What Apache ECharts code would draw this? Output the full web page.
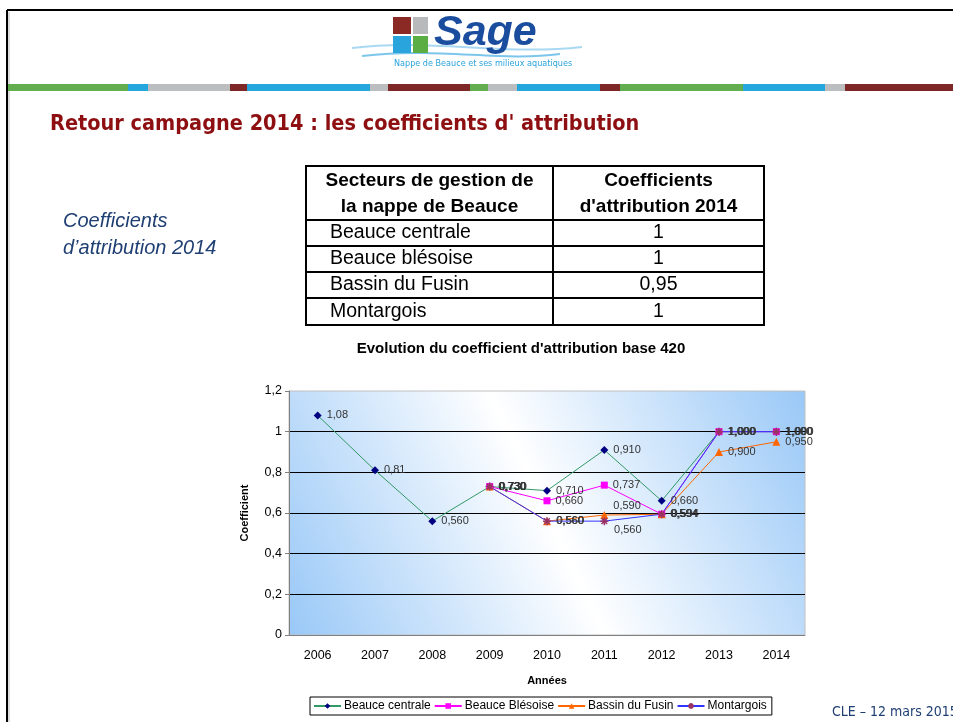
<!DOCTYPE html>
<html>
<head>
<meta charset="utf-8">
<script src="https://cdn.jsdelivr.net/npm/echarts@6/dist/echarts.min.js"></script>
<style>
  html, body { margin: 0; padding: 0; background: #fff; }
  #slide { width: 953px; height: 722px; }
</style>
</head>
<body>
<div id="slide"></div>
<script>
// données du graphique
var years = ['2006', '2007', '2008', '2009', '2010', '2011', '2012', '2013', '2014'];
var centrale = [1.08, 0.81, 0.56, 0.73, 0.71, 0.91, 0.66, 1.0, 1.0];
var blesoise = [null, null, null, 0.73, 0.66, 0.737, 0.594, 1.0, 1.0];
var fusin = [null, null, null, 0.73, 0.56, 0.59, 0.594, 0.9, 0.95];
var montargois = [null, null, null, 0.73, 0.56, 0.56, 0.594, 1.0, 1.0];
var seriesNames = ['Beauce centrale', 'Beauce Blésoise', 'Bassin du Fusin', 'Montargois'];
var yTicks = [0, 0.2, 0.4, 0.6, 0.8, 1, 1.2];

// tableau des coefficients 2014
var secteurs = ['Beauce centrale', 'Beauce blésoise', 'Bassin du Fusin', 'Montargois'];
var coef2014 = ['1', '1', '0,95', '1'];

var FONT = "'Liberation Sans', Arial, sans-serif";
var NARROW = "'Liberation Sans Narrow', 'DejaVu Sans Condensed', sans-serif";

function fmt(v, twoDec) {
  return (twoDec ? v.toFixed(2) : v.toFixed(3)).replace('.', ',');
}

var myChart = echarts.init(document.getElementById('slide'));

// décor de la diapo
var g = [];
// cadre
g.push({ type: 'line', shape: { x1: 7, y1: 10, x2: 953, y2: 10 }, style: { stroke: '#000', lineWidth: 2 } });
g.push({ type: 'line', shape: { x1: 7, y1: 10, x2: 7, y2: 722 }, style: { stroke: '#000', lineWidth: 2 } });
g.push({ type: 'line', shape: { x1: 9, y1: 12, x2: 9, y2: 722 }, style: { stroke: '#bbb', lineWidth: 1 } });

// bandeau de couleur
var strip = [[8, 128, '#62ad4f'], [128, 148, '#25a7de'], [148, 230, '#bcbdbf'], [230, 247, '#7d2827'],
  [247, 370, '#25a7de'], [370, 388, '#bcbdbf'], [388, 470, '#7d2827'], [470, 488, '#62ad4f'],
  [488, 517, '#bcbdbf'], [517, 600, '#25a7de'], [600, 620, '#7d2827'], [620, 743, '#62ad4f'],
  [743, 825, '#25a7de'], [825, 845, '#bcbdbf'], [845, 953, '#7d2827']];
strip.forEach(function (s) {
  g.push({ type: 'rect', shape: { x: s[0], y: 84, width: s[1] - s[0], height: 7 }, style: { fill: s[2] } });
});

// logo Sage
g.push({ type: 'bezierCurve', shape: { x1: 352, y1: 48, x2: 582, y2: 47, cpx1: 430, cpy1: 38, cpx2: 500, cpy2: 56 }, style: { stroke: '#a9d8f2', lineWidth: 2, fill: null } });
g.push({ type: 'bezierCurve', shape: { x1: 362, y1: 56, x2: 560, y2: 54, cpx1: 440, cpy1: 47, cpx2: 500, cpy2: 62 }, style: { stroke: '#7cc6ec', lineWidth: 2, fill: null } });
g.push({ type: 'rect', shape: { x: 393, y: 17, width: 18, height: 17 }, style: { fill: '#8b2a24' } });
g.push({ type: 'rect', shape: { x: 413, y: 17, width: 15, height: 17 }, style: { fill: '#b8b9bb' } });
g.push({ type: 'rect', shape: { x: 393, y: 36, width: 18, height: 17 }, style: { fill: '#2aa4dc' } });
g.push({ type: 'rect', shape: { x: 413, y: 36, width: 15, height: 17 }, style: { fill: '#5aae44' } });
g.push({ type: 'text', style: { x: 434, y: 12, text: 'Sage', fill: '#1a4d9e', font: 'italic bold 43px ' + FONT, verticalAlign: 'top' } });
g.push({ type: 'text', style: { x: 394, y: 64, text: 'Nappe de Beauce et ses milieux aquatiques', fill: '#2aa3dc', font: '9px ' + NARROW, verticalAlign: 'middle' } });

// titre de la diapo
g.push({ type: 'text', style: { x: 50, y: 124, text: "Retour campagne 2014 : les coefficients d' attribution", fill: '#8e0f12', font: 'bold 21.5px ' + NARROW, verticalAlign: 'middle' } });

// texte italique
g.push({ type: 'text', style: { x: 63, y: 221, text: 'Coefficients', fill: '#1f3f73', font: 'italic 20px ' + FONT, verticalAlign: 'middle' } });
g.push({ type: 'text', style: { x: 63, y: 248, text: "d\u2019attribution 2014", fill: '#1f3f73', font: 'italic 20px ' + FONT, verticalAlign: 'middle' } });

// tableau
var tx0 = 306, tx1 = 553, tx2 = 764;
var rowY = [166, 220, 246, 272, 298, 325];
g.push({ type: 'rect', shape: { x: tx0, y: rowY[0], width: tx2 - tx0, height: rowY[5] - rowY[0] }, style: { fill: 'none', stroke: '#000', lineWidth: 2 } });
g.push({ type: 'line', shape: { x1: tx1, y1: rowY[0], x2: tx1, y2: rowY[5] }, style: { stroke: '#000', lineWidth: 2 } });
for (var r = 1; r < 5; r++) {
  g.push({ type: 'line', shape: { x1: tx0, y1: rowY[r], x2: tx2, y2: rowY[r] }, style: { stroke: '#000', lineWidth: 2 } });
}
g.push({ type: 'text', style: { x: (tx0 + tx1) / 2, y: 181, text: 'Secteurs de gestion de', fill: '#000', font: 'bold 19px ' + FONT, align: 'center', verticalAlign: 'middle' } });
g.push({ type: 'text', style: { x: (tx0 + tx1) / 2, y: 207, text: 'la nappe de Beauce', fill: '#000', font: 'bold 19px ' + FONT, align: 'center', verticalAlign: 'middle' } });
g.push({ type: 'text', style: { x: (tx1 + tx2) / 2, y: 181, text: 'Coefficients', fill: '#000', font: 'bold 19px ' + FONT, align: 'center', verticalAlign: 'middle' } });
g.push({ type: 'text', style: { x: (tx1 + tx2) / 2, y: 207, text: "d'attribution 2014", fill: '#000', font: 'bold 19px ' + FONT, align: 'center', verticalAlign: 'middle' } });
secteurs.forEach(function (s, i) {
  var cy = (rowY[i + 1] + rowY[i + 2]) / 2;
  g.push({ type: 'text', style: { x: 330, y: cy, text: s, fill: '#000', font: '19.5px ' + FONT, verticalAlign: 'middle' } });
  g.push({ type: 'text', style: { x: (tx1 + tx2) / 2, y: cy, text: coef2014[i], fill: '#000', font: '19.5px ' + FONT, align: 'center', verticalAlign: 'middle' } });
});

// titre du graphique
g.push({ type: 'text', style: { x: 521, y: 349, text: "Evolution du coefficient d'attribution base 420", fill: '#000', font: 'bold 15px ' + FONT, align: 'center', verticalAlign: 'middle' } });

// pied de page
g.push({ type: 'text', style: { x: 832, y: 712, text: 'CLE \u2013 12 mars 2015', fill: '#1f3f73', font: '14px ' + NARROW, verticalAlign: 'middle' } });

function labelOf(seriesIdx) {
  return {
    show: true,
    position: 'right',
    distance: 5,
    color: '#333',
    fontSize: 11,
    fontFamily: FONT,
    formatter: function (p) {
      return fmt(p.value, seriesIdx === 0 && p.dataIndex < 2);
    }
  };
}

var asterisk = 'path://M0,5L10,5M5,0L5,10M1.5,1.5L8.5,8.5M8.5,1.5L1.5,8.5';

myChart.setOption({
  animation: false,
  textStyle: { fontFamily: FONT },
  graphic: { elements: g },
  grid: {
    left: 289, top: 391, width: 516, height: 244,
    show: true,
    borderColor: '#c0c0c0',
    borderWidth: 1,
    backgroundColor: {
      type: 'linear', x: 0, y: 1, x2: 1, y2: 0,
      colorStops: [
        { offset: 0, color: '#99c8f7' },
        { offset: 0.5, color: '#ffffff' },
        { offset: 1, color: '#99c8f7' }
      ]
    }
  },
  legend: {
    left: 310, top: 697,
    data: seriesNames,
    borderColor: '#000', borderWidth: 1,
    padding: [3, 5, 3, 3],
    itemGap: 3, itemWidth: 27, itemHeight: 7,
    textStyle: { fontSize: 12, color: '#000', fontFamily: FONT, padding: [0, 0, 0, -2] }
  },
  xAxis: {
    type: 'category',
    data: years,
    boundaryGap: true,
    name: 'Années',
    nameLocation: 'middle',
    nameGap: 40,
    nameTextStyle: { fontWeight: 'bold', fontSize: 11, color: '#000' },
    axisLine: { lineStyle: { color: '#808080' } },
    axisTick: { length: 5, lineStyle: { color: '#808080' } },
    axisLabel: { margin: 14, fontSize: 12.5, color: '#000' },
    splitLine: { show: false }
  },
  yAxis: {
    type: 'value',
    min: 0, max: 1.2, interval: 0.2,
    name: 'Coefficient',
    nameLocation: 'middle',
    nameGap: 39,
    nameRotate: 90,
    nameTextStyle: { fontWeight: 'bold', fontSize: 11, color: '#000' },
    axisLine: { show: true, lineStyle: { color: '#808080' } },
    axisTick: { show: true, length: 4, lineStyle: { color: '#808080' } },
    axisLabel: {
      margin: 7, fontSize: 12.5, color: '#000',
      formatter: function (v) {
        var t = yTicks.indexOf(+v.toFixed(1)) >= 0 ? String(+v.toFixed(1)) : String(v);
        return t.replace('.', ',');
      }
    },
    splitLine: { lineStyle: { color: ['#000', '#000', '#000', '#000', '#000', '#000', 'rgba(0,0,0,0)'], width: 1 } }
  },
  series: [
    {
      name: seriesNames[0], type: 'line', data: centrale,
      symbol: 'diamond', symbolSize: 8,
      lineStyle: { color: '#339966', width: 1 },
      itemStyle: { color: '#000080' },
      label: labelOf(0)
    },
    {
      name: seriesNames[1], type: 'line', data: blesoise,
      symbol: 'rect', symbolSize: 7,
      lineStyle: { color: '#ff00ff', width: 1 },
      itemStyle: { color: '#ff00ff' },
      label: labelOf(1)
    },
    {
      name: seriesNames[2], type: 'line',
      data: fusin.map(function (v, i) { return i === 5 ? { value: v, label: { offset: [0, -9] } } : v; }),
      symbol: 'triangle', symbolSize: 8,
      lineStyle: { color: '#ff6600', width: 1 },
      itemStyle: { color: '#ff6600' },
      label: labelOf(2)
    },
    {
      name: seriesNames[3], type: 'line',
      data: montargois.map(function (v, i) { return i === 5 ? { value: v, label: { offset: [0, 9] } } : v; }),
      symbol: asterisk, symbolSize: 8,
      lineStyle: { color: '#3333ff', width: 1 },
      itemStyle: { color: '#993366', borderColor: '#993366', borderWidth: 1.5 },
      label: labelOf(3)
    }
  ]
});
</script>
</body>
</html>
